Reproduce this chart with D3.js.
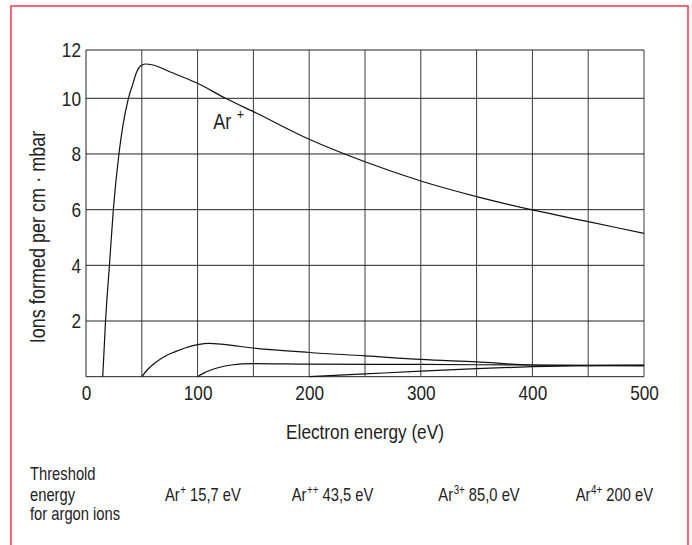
<!DOCTYPE html>
<html><head><meta charset="utf-8">
<script src="https://cdn.jsdelivr.net/npm/d3@7"></script>
<style>body{margin:0;background:#fff}svg{display:block}</style>
</head><body><svg id="c" width="692" height="545"></svg>
<script>
// ---- data ----
const xTickValues = [0, 100, 200, 300, 400, 500];
const yTickValues = [2, 4, 6, 8, 10, 12];
const xGridValues = [50, 100, 150, 200, 250, 300, 350, 400, 450, 500];
const yGridValues = [2, 4, 6, 8, 10, 12];

const arPlusE = [15, 17.5, 21, 24.5, 29.5, 33, 38, 42, 45.5, 49, 53, 60, 75, 100, 125, 150, 200, 250, 300, 350, 400, 450, 500];
const arPlusV = [0, 2, 4, 6, 8, 9, 10, 10.6, 11.1, 11.35, 11.42, 11.38, 11.1, 10.62, 10.0, 9.52, 8.53, 7.72, 7.03, 6.47, 5.99, 5.57, 5.15];
const ar2E = [50, 55, 62, 70, 80, 90, 100, 110, 125, 150, 200, 250, 300, 350, 400, 450, 500];
const ar2V = [0, 0.25, 0.5, 0.72, 0.9, 1.05, 1.15, 1.2, 1.15, 1.03, 0.87, 0.75, 0.62, 0.53, 0.42, 0.40, 0.39];
const ar3E = [100, 105, 112, 120, 130, 140, 150, 200, 300, 400, 500];
const ar3V = [0, 0.12, 0.24, 0.34, 0.42, 0.46, 0.47, 0.45, 0.44, 0.42, 0.41];
const ar4E = [200, 250, 300, 350, 400, 450, 500];
const ar4V = [0, 0.1, 0.2, 0.29, 0.36, 0.4, 0.42];

const xTitle = "Electron energy (eV)";
const yTitle = "Ions formed per cm \u00B7 mbar";
const thresholdTitle = ["Threshold", "energy", "for argon ions"];
const ionBase = ["Ar", "Ar", "Ar", "Ar"];
const ionCharge = ["+", "++", "3+", "4+"];
const ionEnergy = ["15,7 eV", "43,5 eV", "85,0 eV", "200 eV"];

// ---- font (condensed look) ----
function hasFont(f){const c=document.createElement('canvas').getContext('2d');const s='Ions formed mbar 0123';c.font='40px monospace';const a=c.measureText(s).width;c.font='40px "'+f+'", monospace';return Math.abs(c.measureText(s).width-a)>0.5;}
const narrow = hasFont('Liberation Sans Narrow');
const FONT = narrow ? '"Liberation Sans Narrow", "Liberation Sans", sans-serif' : '"Liberation Sans", Arial, sans-serif';
const K = narrow ? 1 : 0.82;

const svg = d3.select('#c').style('font-family', FONT);
function txt(px, py, s, size, extra){
  return svg.append('text').attr('transform', `translate(${px},${py})${extra || ''} scale(${K},1)`)
    .attr('font-size', size).attr('fill', '#222').text(s);
}
function widthOf(sel){ return sel.node().getComputedTextLength() * K; }

const L = 86, R = 644, T = 50, B = 376.7;
const x = d3.scaleLinear().domain([0, 500]).range([L, R]);
const y = d3.scaleLinear().domain([0, 10, 12]).range([B, 98.3, T]);

// red frame
svg.append('rect').attr('x', 11).attr('y', 6).attr('width', 677).attr('height', 560)
  .attr('fill', 'none').attr('stroke', '#ee4455').attr('stroke-width', 1.6);

// grid
const g = svg.append('g');
g.selectAll('.vg').data(xGridValues).join('line')
  .attr('x1', d => x(d)).attr('x2', d => x(d)).attr('y1', T).attr('y2', B)
  .attr('stroke', '#3a3a3a').attr('stroke-width', 1);
g.selectAll('.hg').data(yGridValues).join('line')
  .attr('x1', L).attr('x2', R).attr('y1', d => y(d)).attr('y2', d => y(d))
  .attr('stroke', '#222').attr('stroke-width', 1);
g.append('line').attr('x1', L).attr('x2', L).attr('y1', T).attr('y2', B).attr('stroke', '#222');
g.append('line').attr('x1', L).attr('x2', R).attr('y1', B).attr('y2', B).attr('stroke', '#222');

// axes via d3
const xAxis = svg.append('g').attr('transform', `translate(0,${B})`)
  .call(d3.axisBottom(x).tickValues(xTickValues).tickSize(0).tickPadding(8).tickFormat(d3.format('d')));
const yAxis = svg.append('g').attr('transform', `translate(${L - 5},0)`)
  .call(d3.axisLeft(y).tickValues(yTickValues).tickSize(0).tickPadding(0).tickFormat(d3.format('d')));
[xAxis, yAxis].forEach(a => {
  a.select('.domain').remove();
  a.selectAll('text').attr('font-size', 21).attr('fill', '#222').style('font-family', FONT)
    .attr('transform', `scale(${K},1)`);
});

// curves
const line = d3.line().x(d => x(d[0])).y(d => y(d[1])).curve(d3.curveMonotoneX);
const series = [[arPlusE, arPlusV], [ar2E, ar2V], [ar3E, ar3V], [ar4E, ar4V]];
svg.append('g').selectAll('path').data(series).join('path')
  .attr('d', s => line(s[0].map((e, i) => [e, s[1][i]])))
  .attr('fill', 'none').attr('stroke', '#111').attr('stroke-width', 1.2);

// Ar+ label
txt(x(114), y(8.9), 'Ar', 22);
txt(x(135), y(9.27), '+', 15);

// titles
txt((L + R) / 2, 439, xTitle, 21).attr('text-anchor', 'middle');
txt(45, 237, yTitle, 22, ' rotate(-90)').attr('text-anchor', 'middle');

// threshold table
thresholdTitle.forEach((t, i) => txt(30, [480, 500.5, 520][i], t, 18));
const ionX = [165, 291.7, 438.3, 575.7];
ionBase.forEach((b, i) => {
  const t1 = txt(ionX[i], 500.5, b, 18);
  const x2 = ionX[i] + widthOf(t1) + 0.6;
  const t2 = txt(x2, 494, ionCharge[i], 12);
  const x3 = x2 + widthOf(t2) + 4;
  txt(x3, 500.5, ionEnergy[i], 18);
});
</script></body></html>
